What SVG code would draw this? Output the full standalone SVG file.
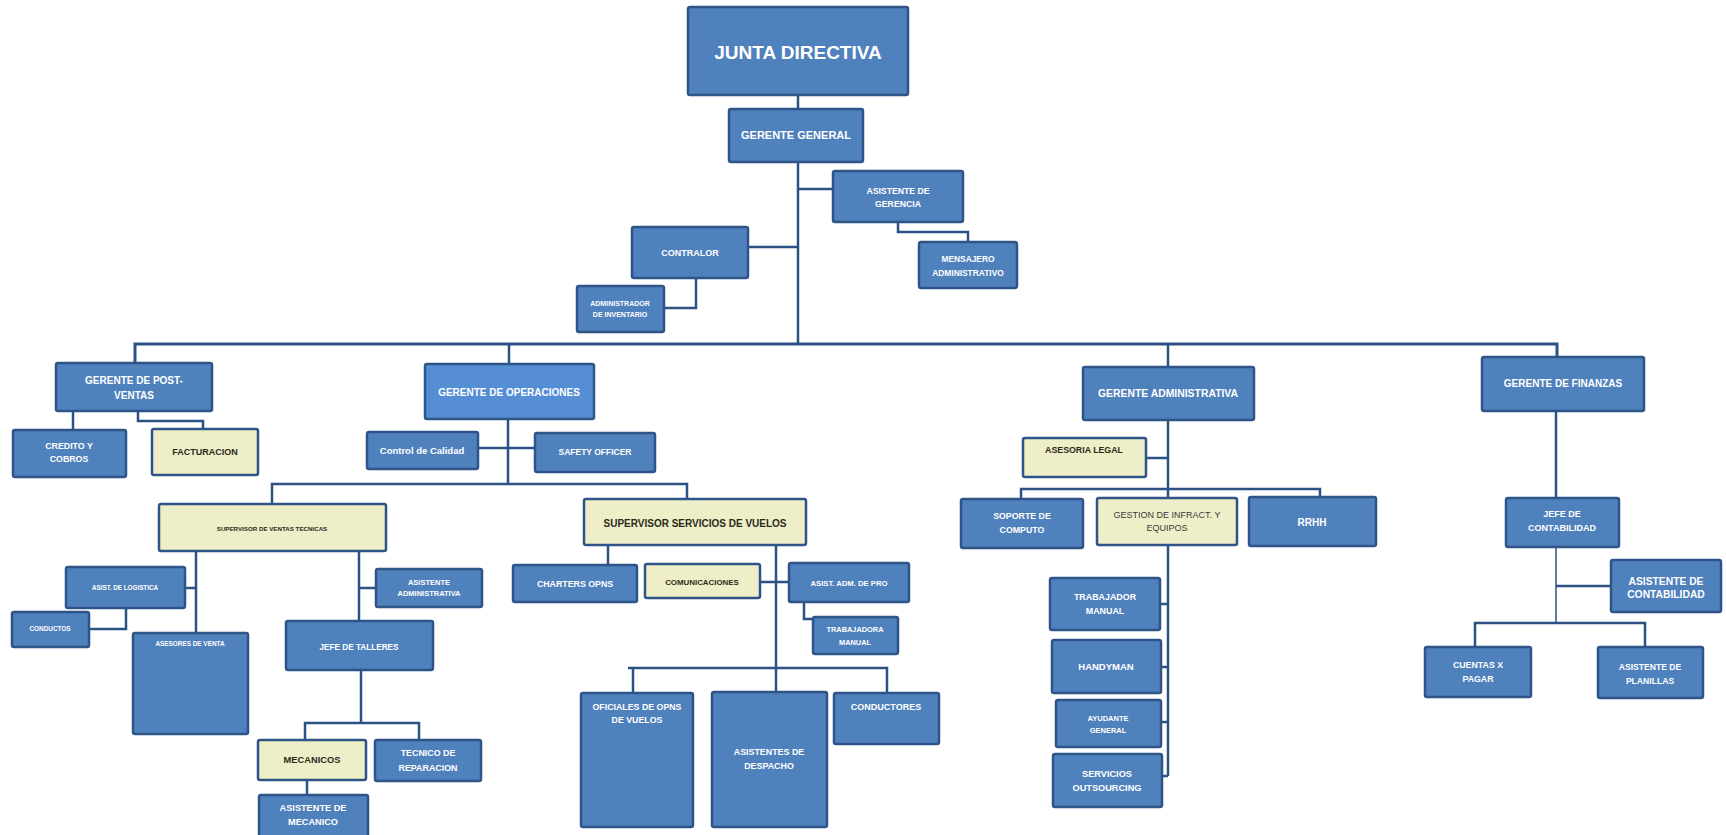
<svg xmlns="http://www.w3.org/2000/svg" width="1726" height="835" viewBox="0 0 1726 835">
<style>
.b{fill:#4f81bd;stroke:#2f5487;stroke-width:2.5}
.bl{fill:#558ed5;stroke:#2f5487;stroke-width:2.5}
.y{fill:#eeeec8;stroke:#2f5487;stroke-width:2.5}
.t{font-family:"Liberation Sans",Arial,sans-serif;font-weight:bold;fill:#ffffff;text-anchor:middle}
.d{font-family:"Liberation Sans",Arial,sans-serif;font-weight:bold;fill:#2a2a1a;text-anchor:middle}
.g{font-family:"Liberation Sans",Arial,sans-serif;font-weight:normal;fill:#3a3a3a;text-anchor:middle}
.c{fill:none;stroke:#2c5285;stroke-width:2.5}
.ct{fill:none;stroke:#2c5285;stroke-width:1.5}
</style>
<rect width="1726" height="835" fill="#ffffff"/>
<g id="connectors">
<path class="c" d="M798,95V109"/>
<path class="c" d="M798,162V344"/>
<path class="c" d="M798,189H833"/>
<path class="c" d="M898,222V232H968V242"/>
<path class="c" d="M748,247H798"/>
<path class="c" d="M696,278V308H664"/>
<path class="c" style="stroke-width:3" d="M135,363V344H1557V357"/>
<path class="c" d="M509,344V364"/>
<path class="c" d="M1168,344V367"/>
<path class="c" d="M73,411V430"/>
<path class="c" d="M138,411V421H203V429"/>
<path class="c" d="M508,419V484"/>
<path class="c" d="M478,448H535"/>
<path class="c" d="M272,504V484H687V499"/>
<path class="c" d="M196,551V633"/>
<path class="c" d="M185,588H196"/>
<path class="c" d="M126,608V629H89"/>
<path class="c" d="M359,551V621"/>
<path class="c" d="M359,588H376"/>
<path class="c" d="M361,670V723"/>
<path class="c" d="M305,740V723H419V740"/>
<path class="c" d="M307,780V795"/>
<path class="c" d="M608,545V565"/>
<path class="c" d="M776,545V692"/>
<path class="c" d="M760,582H789"/>
<path class="c" d="M804,602V619H813"/>
<path class="c" d="M628,668H887V693"/>
<path class="c" d="M633,668V693"/>
<path class="c" d="M1168,420V498"/>
<path class="c" d="M1146,458H1168"/>
<path class="c" d="M1021,499V489H1320V497"/>
<path class="c" d="M1168,545V776"/>
<path class="c" d="M1160,604H1168"/>
<path class="c" d="M1161,667H1168"/>
<path class="c" d="M1161,722H1168"/>
<path class="c" d="M1162,776H1168"/>
<path class="c" d="M1556,411V498"/>
<path class="ct" d="M1556,547V623"/>
<path class="c" d="M1556,586H1611"/>
<path class="c" d="M1475,647V623H1645V647"/>
</g>
<g id="junta"><rect class="b" x="688" y="7" width="220" height="88" rx="2"/><text class="t" x="798" y="59" font-size="19">JUNTA DIRECTIVA</text></g>
<g id="gerente-general"><rect class="b" x="729" y="109" width="134" height="53" rx="2"/><text class="t" x="796" y="139" font-size="11">GERENTE GENERAL</text></g>
<g id="asistente-gerencia"><rect class="b" x="833" y="171" width="130" height="51" rx="2"/><text class="t" x="898" y="194" font-size="8.7">ASISTENTE DE</text><text class="t" x="898" y="207" font-size="8.7">GERENCIA</text></g>
<g id="mensajero"><rect class="b" x="919" y="242" width="98" height="46" rx="2"/><text class="t" x="968" y="262" font-size="8.4">MENSAJERO</text><text class="t" x="968" y="276" font-size="8.4">ADMINISTRATIVO</text></g>
<g id="contralor"><rect class="b" x="632" y="227" width="116" height="51" rx="2"/><text class="t" x="690" y="255.5" font-size="9">CONTRALOR</text></g>
<g id="admin-inventario"><rect class="b" x="577" y="286" width="87" height="46" rx="2"/><text class="t" x="620" y="305.5" font-size="7">ADMINISTRADOR</text><text class="t" x="620" y="316.5" font-size="7">DE INVENTARIO</text></g>
<g id="post-ventas"><rect class="b" x="56" y="363" width="156" height="48" rx="2"/><text class="t" x="134" y="383.5" font-size="10">GERENTE DE POST-</text><text class="t" x="134" y="398.5" font-size="10">VENTAS</text></g>
<g id="credito"><rect class="b" x="13" y="430" width="113" height="47" rx="2"/><text class="t" x="69" y="449" font-size="8.8">CREDITO Y</text><text class="t" x="69" y="462" font-size="8.8">COBROS</text></g>
<g id="facturacion"><rect class="y" x="152" y="429" width="106" height="46" rx="2"/><text class="d" x="205" y="455" font-size="9">FACTURACION</text></g>
<g id="gerente-operaciones"><rect class="bl" x="425" y="364" width="169" height="55" rx="2"/><text class="t" x="509" y="395.5" font-size="10">GERENTE DE OPERACIONES</text></g>
<g id="control-calidad"><rect class="b" x="367" y="432" width="111" height="37" rx="2"/><text class="t" x="422" y="453.5" font-size="9.5">Control de Calidad</text></g>
<g id="safety-officer"><rect class="b" x="535" y="433" width="120" height="39" rx="2"/><text class="t" x="595" y="455" font-size="8.5">SAFETY OFFICER</text></g>
<g id="supervisor-ventas"><rect class="y" x="159" y="504" width="227" height="47" rx="2"/><text class="d" x="272" y="531" font-size="6.2">SUPERVISOR DE VENTAS TECNICAS</text></g>
<g id="supervisor-vuelos"><rect class="y" x="584" y="499" width="222" height="46" rx="2"/><text class="d" x="695" y="526.5" font-size="10">SUPERVISOR SERVICIOS DE VUELOS</text></g>
<g id="asist-logistica"><rect class="b" x="66" y="567" width="119" height="41" rx="2"/><text class="t" x="125" y="590" font-size="6.3">ASIST. DE LOGISTICA</text></g>
<g id="conductos"><rect class="b" x="12" y="612" width="77" height="35" rx="2"/><text class="t" x="50" y="631" font-size="6.4">CONDUCTOS</text></g>
<g id="asesores-venta"><rect class="b" x="133" y="633" width="115" height="101" rx="2"/><text class="t" x="190" y="646" font-size="6.4">ASESORES DE VENTA</text></g>
<g id="asistente-administrativa"><rect class="b" x="376" y="569" width="106" height="38" rx="2"/><text class="t" x="429" y="584.5" font-size="7.5">ASISTENTE</text><text class="t" x="429" y="595.5" font-size="7.5">ADMINISTRATIVA</text></g>
<g id="jefe-talleres"><rect class="b" x="286" y="621" width="147" height="49" rx="2"/><text class="t" x="359" y="650" font-size="8.2">JEFE DE TALLERES</text></g>
<g id="mecanicos"><rect class="y" x="258" y="740" width="108" height="40" rx="2"/><text class="d" x="312" y="763" font-size="9.3">MECANICOS</text></g>
<g id="tecnico-reparacion"><rect class="b" x="375" y="740" width="106" height="41" rx="2"/><text class="t" x="428" y="756" font-size="8.9">TECNICO DE</text><text class="t" x="428" y="771" font-size="8.9">REPARACION</text></g>
<g id="asistente-mecanico"><rect class="b" x="259" y="795" width="109" height="48" rx="2"/><text class="t" x="313" y="811" font-size="9.2">ASISTENTE  DE</text><text class="t" x="313" y="825" font-size="9.2">MECANICO</text></g>
<g id="charters"><rect class="b" x="513" y="565" width="124" height="37" rx="2"/><text class="t" x="575" y="587" font-size="8.8">CHARTERS OPNS</text></g>
<g id="comunicaciones"><rect class="y" x="645" y="564" width="115" height="34" rx="2"/><text class="d" x="702" y="584.5" font-size="7.9">COMUNICACIONES</text></g>
<g id="asist-adm-pro"><rect class="b" x="789" y="563" width="120" height="39" rx="2"/><text class="t" x="849" y="585.5" font-size="7.7">ASIST. ADM. DE PRO</text></g>
<g id="trabajadora-manual"><rect class="b" x="813" y="617" width="85" height="37" rx="2"/><text class="t" x="855" y="631.5" font-size="7.4">TRABAJADORA</text><text class="t" x="855" y="644.5" font-size="7.4">MANUAL</text></g>
<g id="oficiales"><rect class="b" x="581" y="693" width="112" height="134" rx="2"/><text class="t" x="637" y="710" font-size="8.8">OFICIALES DE OPNS</text><text class="t" x="637" y="723" font-size="8.8">DE  VUELOS</text></g>
<g id="asistentes-despacho"><rect class="b" x="712" y="692" width="115" height="135" rx="2"/><text class="t" x="769" y="755" font-size="8.9">ASISTENTES  DE</text><text class="t" x="769" y="769" font-size="8.9">DESPACHO</text></g>
<g id="conductores"><rect class="b" x="834" y="693" width="105" height="51" rx="2"/><text class="t" x="886" y="710" font-size="9">CONDUCTORES</text></g>
<g id="gerente-administrativa"><rect class="b" x="1083" y="367" width="171" height="53" rx="2"/><text class="t" x="1168" y="396.5" font-size="10.4">GERENTE ADMINISTRATIVA</text></g>
<g id="asesoria-legal"><rect class="y" x="1023" y="438" width="123" height="39" rx="2"/><text class="d" x="1084" y="453" font-size="8.8">ASESORIA  LEGAL</text></g>
<g id="soporte"><rect class="b" x="961" y="499" width="122" height="49" rx="2"/><text class="t" x="1022" y="519" font-size="8.8">SOPORTE DE</text><text class="t" x="1022" y="533" font-size="8.8">COMPUTO</text></g>
<g id="gestion"><rect class="y" x="1097" y="498" width="140" height="47" rx="2"/><text class="g" x="1167" y="518" font-size="9">GESTION DE INFRACT. Y</text><text class="g" x="1167" y="531" font-size="9">EQUIPOS</text></g>
<g id="rrhh"><rect class="b" x="1249" y="497" width="127" height="49" rx="2"/><text class="t" x="1312" y="525.5" font-size="10">RRHH</text></g>
<g id="trabajador-manual"><rect class="b" x="1050" y="578" width="110" height="52" rx="2"/><text class="t" x="1105" y="600" font-size="8.9">TRABAJADOR</text><text class="t" x="1105" y="614" font-size="8.9">MANUAL</text></g>
<g id="handyman"><rect class="b" x="1052" y="640" width="109" height="53" rx="2"/><text class="t" x="1106" y="670" font-size="9.5">HANDYMAN</text></g>
<g id="ayudante"><rect class="b" x="1056" y="700" width="105" height="47" rx="2"/><text class="t" x="1108" y="720.5" font-size="7.5">AYUDANTE</text><text class="t" x="1108" y="732.5" font-size="7.5">GENERAL</text></g>
<g id="servicios"><rect class="b" x="1053" y="754" width="109" height="53" rx="2"/><text class="t" x="1107" y="777" font-size="9.2">SERVICIOS</text><text class="t" x="1107" y="791" font-size="9.2">OUTSOURCING</text></g>
<g id="gerente-finanzas"><rect class="b" x="1482" y="357" width="162" height="54" rx="2"/><text class="t" x="1563" y="386.5" font-size="10">GERENTE DE FINANZAS</text></g>
<g id="jefe-contabilidad"><rect class="b" x="1506" y="498" width="113" height="49" rx="2"/><text class="t" x="1562" y="517" font-size="9">JEFE DE</text><text class="t" x="1562" y="531" font-size="9">CONTABILIDAD</text></g>
<g id="asistente-contabilidad"><rect class="b" x="1611" y="560" width="110" height="52" rx="2"/><text class="t" x="1666" y="584.5" font-size="10.3">ASISTENTE  DE</text><text class="t" x="1666" y="597.5" font-size="10.3">CONTABILIDAD</text></g>
<g id="cuentas-pagar"><rect class="b" x="1425" y="647" width="106" height="50" rx="2"/><text class="t" x="1478" y="668" font-size="8.8">CUENTAS X</text><text class="t" x="1478" y="682" font-size="8.8">PAGAR</text></g>
<g id="asistente-planillas"><rect class="b" x="1598" y="647" width="105" height="51" rx="2"/><text class="t" x="1650" y="670" font-size="8.6">ASISTENTE DE</text><text class="t" x="1650" y="684" font-size="8.6">PLANILLAS</text></g>
</svg>
